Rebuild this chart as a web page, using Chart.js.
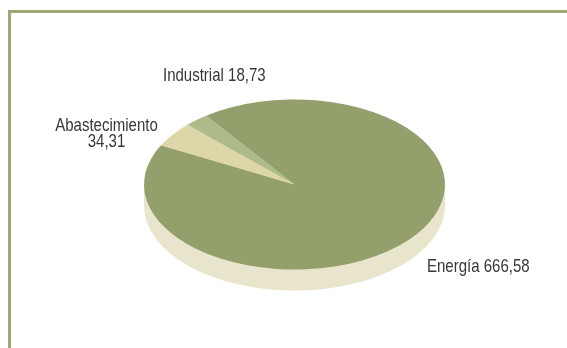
<!DOCTYPE html>
<html>
<head>
<meta charset="utf-8">
<script src="https://cdn.jsdelivr.net/npm/chart.js@4/dist/chart.umd.min.js"></script>
<style>
    html, body { margin: 0; padding: 0; background: #fff; }
    #wrap { position: relative; width: 567px; height: 348px; overflow: hidden; }
    #frame {
        position: absolute; left: 8px; top: 10px; width: 600px; height: 400px;
        border-top: 3px solid #9da877; border-left: 3px solid #9da877;
    }
    #usos { position: absolute; left: 0; top: 0; }
</style>
</head>
<body>
<div id="wrap">
    <div id="frame"></div>
    <canvas id="usos" width="567" height="348"></canvas>
</div>
<script>
// Consumo por uso (valores en la etiqueta de cada sector)
const categories = ["Energía", "Abastecimiento", "Industrial"];
const values = [666.58, 34.31, 18.73];
const sliceColors = ["#94a06c", "#ddd6a9", "#aebb88"];

const sideColor = "#e9e5cc";
const squash = 0.565;     // alto/ancho de la elipse
const depth = 21;         // grosor del canto
const labelFont = '19px "Liberation Sans", Arial, sans-serif';
const narrow = 0.79;      // estrechamiento horizontal del texto

// Posición de cada etiqueta en unidades de radio (x, y) y alineación
const labelPlacement = [
    { dx: 0.880, dy: 1.029, align: "left" },
    { dx: -1.249, dy: -0.629, align: "center" },
    { dx: -0.874, dy: -1.218, align: "left" }
];

function fmt(v) {
    return v.toFixed(2).replace(".", ",");
}

function narrowText(ctx, text, x, y) {
    ctx.save();
    ctx.translate(x, y);
    ctx.scale(narrow, 1);
    ctx.fillText(text, 0, 0);
    ctx.restore();
}

// Pie aplanado con canto: dibuja el canto y luego achata los sectores
const tiltPlugin = {
    id: "tilt",
    beforeDatasetsDraw(chart) {
        const arc = chart.getDatasetMeta(0).data[0];
        const ctx = chart.ctx;
        const cx = arc.x, cy = arc.y, rx = arc.outerRadius, ry = rx * squash;
        ctx.save();
        ctx.fillStyle = sideColor;
        ctx.beginPath();
        ctx.ellipse(cx, cy + depth, rx, ry, 0, 0, Math.PI * 2);
        ctx.fill();
        ctx.fillRect(cx - rx, cy, rx * 2, depth);
        ctx.restore();

        ctx.save();
        ctx.translate(cx, cy);
        ctx.scale(1, squash);
        ctx.translate(-cx, -cy);
    },
    afterDatasetsDraw(chart) {
        chart.ctx.restore();
    },
    afterDraw(chart) {
        const arc = chart.getDatasetMeta(0).data[0];
        const ctx = chart.ctx;
        const cx = arc.x, cy = arc.y, rx = arc.outerRadius, ry = rx * squash;
        ctx.save();
        ctx.font = labelFont;
        ctx.fillStyle = "#383838";
        ctx.textBaseline = "alphabetic";
        categories.forEach((name, i) => {
            const p = labelPlacement[i];
            const x = cx + p.dx * rx;
            const y = cy + p.dy * ry;
            ctx.textAlign = p.align;
            if (p.align === "center") {
                narrowText(ctx, name, x, y);
                narrowText(ctx, fmt(values[i]), x, y + 16);
            } else {
                narrowText(ctx, name + " " + fmt(values[i]), x, y);
            }
        });
        ctx.restore();
    }
};

new Chart(document.getElementById("usos"), {
    type: "pie",
    data: {
        labels: categories,
        datasets: [{
            data: values,
            backgroundColor: sliceColors,
            borderWidth: 0,
            hoverOffset: 0
        }]
    },
    options: {
        responsive: false,
        animation: false,
        rotation: -36,
        layout: { padding: { left: 144, right: 122, top: 34, bottom: 13 } },
        plugins: {
            legend: { display: false },
            tooltip: { enabled: false }
        }
    },
    plugins: [tiltPlugin]
});
</script>
</body>
</html>
